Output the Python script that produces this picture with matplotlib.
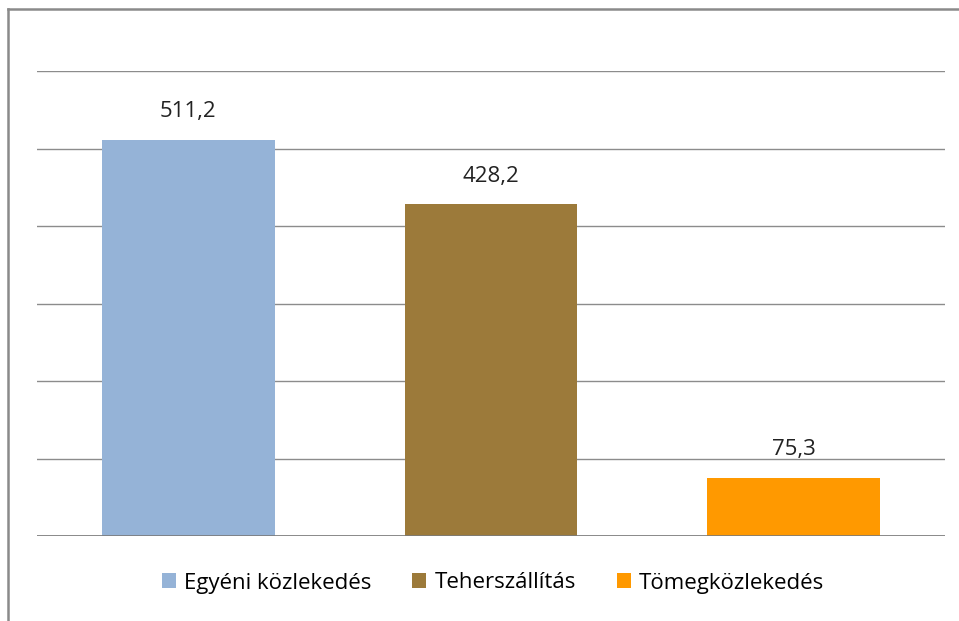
import numpy as np
import matplotlib.pyplot as plt
from matplotlib.lines import Line2D
from matplotlib.patches import Patch

#------------------------------------------------Données

categories = ['Egyéni közlekedés', 'Teherszállítás', 'Tömegközlekedés']
values = [511.2, 428.2, 75.3]
labels = ['511,2', '428,2', '75,3']
colors = ['#95B3D7', '#9C7A3A', '#FF9900']

#------------------------------------------------Figure

plt.rcParams['font.family'] = ['Open Sans', 'DejaVu Sans']

fig = plt.figure(figsize=(9.59, 6.21), dpi=100)
ax = fig.add_axes([37/959, 1-536/621, (945-37)/959, (536-71)/621])

x = np.arange(len(categories))
ax.bar(x, values, width=0.57, color=colors, zorder=3)

for xi, v, lab in zip(x, values, labels):
    ax.text(xi, v + 36, lab, ha='center', va='center', fontsize=16, color='#222222')

ax.set_xlim(-0.5, 2.5)
ax.set_ylim(0, 600)
ax.set_yticks(np.arange(0, 601, 100))
ax.yaxis.grid(True, color='#8c8c8c', linewidth=1.0, zorder=0)
ax.axhline(0, color='#7a7a7a', linewidth=1.2, zorder=4)
ax.set_xticks([])
ax.tick_params(left=False, labelleft=False)
for s in ax.spines.values():
    s.set_visible(False)

# cadre gris (haut et gauche)
fig.add_artist(Line2D([8/959, 1], [1-9/621, 1-9/621], color='#8a8a8a', linewidth=1.8))
fig.add_artist(Line2D([8/959, 8/959], [0, 1-9/621], color='#8a8a8a', linewidth=1.8))

handles = [Patch(facecolor=c) for c in colors]
fig.legend(handles, categories, loc='center', bbox_to_anchor=(0.514, 1-583/621),
           ncol=3, frameon=False, fontsize=16, handlelength=0.63, handleheight=0.63,
           handletextpad=0.36, columnspacing=1.85)

fig.savefig('out.png', dpi=100)
